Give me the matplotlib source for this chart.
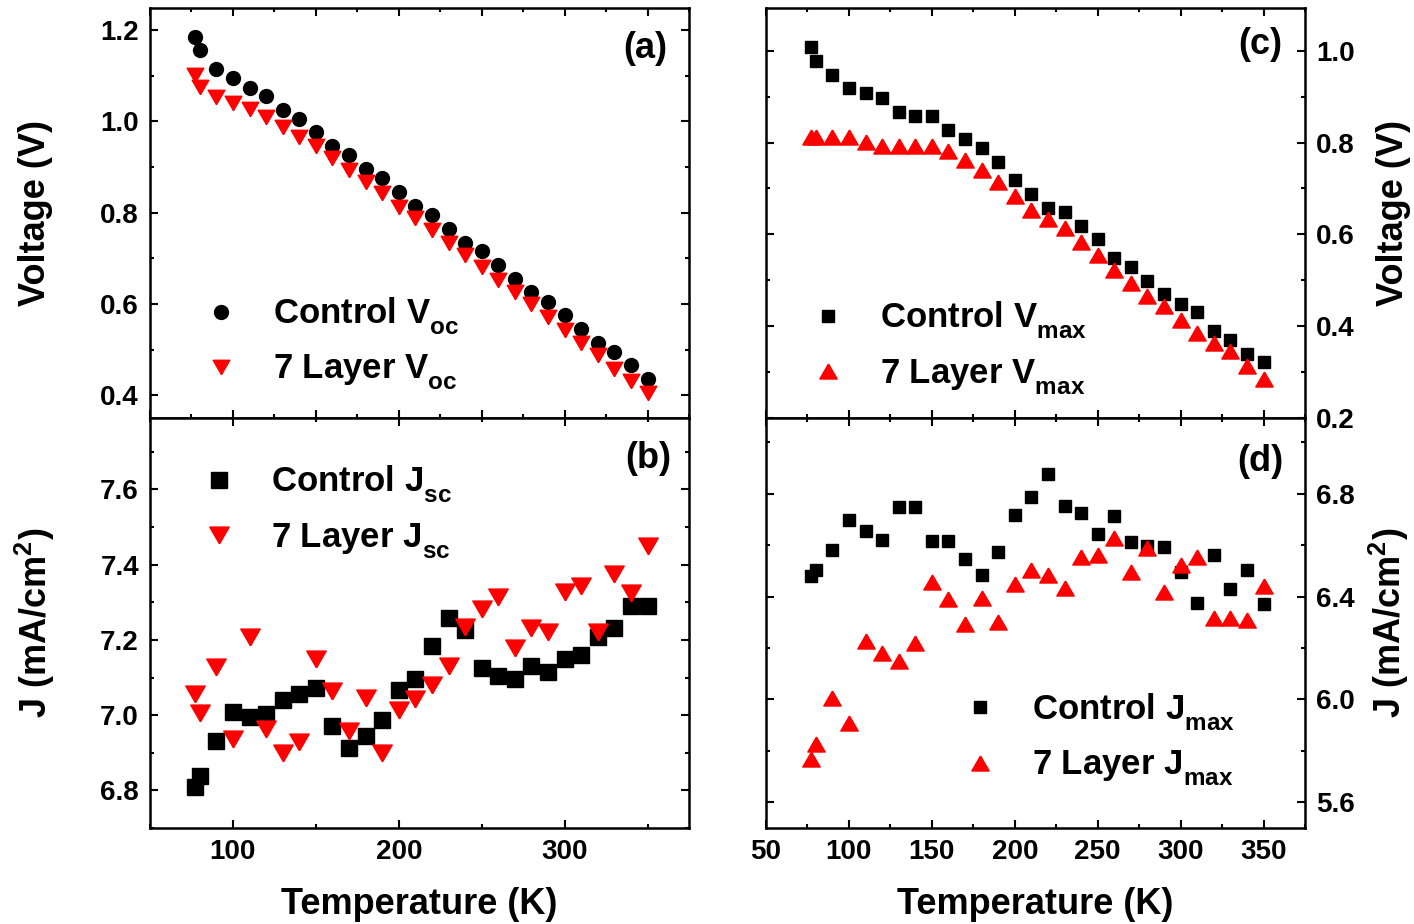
import matplotlib
matplotlib.use("Agg")
import matplotlib.pyplot as plt
from matplotlib.ticker import MultipleLocator, FormatStrFormatter

try:
    # drop subscripts a little lower than the default
    import matplotlib._mathtext as _mt
    _mt.FontConstantsBase.sub1 = 0.6
    _mt.FontConstantsBase.subdrop = 0.6
except Exception:
    pass

plt.rcParams['font.family'] = ['Liberation Sans', 'DejaVu Sans']
plt.rcParams['font.weight'] = 'bold'
plt.rcParams['mathtext.fontset'] = 'custom'
plt.rcParams['mathtext.rm'] = 'Liberation Sans:bold'
plt.rcParams['mathtext.bf'] = 'Liberation Sans:bold'
plt.rcParams['mathtext.it'] = 'Liberation Sans:bold'

# Temperature (K)
temperature = [77, 80, 90, 100, 110, 120, 130, 140, 150, 160, 170, 180, 190, 200,
               210, 220, 230, 240, 250, 260, 270, 280, 290, 300, 310, 320, 330, 340, 350]

# Open-circuit voltage (V)
voc_control = [1.185, 1.155, 1.114, 1.094, 1.073, 1.055, 1.025, 1.005, 0.976, 0.946,
               0.925, 0.895, 0.875, 0.844, 0.815, 0.794, 0.765, 0.734, 0.715, 0.685,
               0.655, 0.625, 0.604, 0.575, 0.544, 0.514, 0.495, 0.465, 0.435]
voc_7layer = [1.101, 1.076, 1.054, 1.041, 1.026, 1.010, 0.988, 0.966, 0.946, 0.919,
              0.893, 0.867, 0.842, 0.813, 0.787, 0.761, 0.734, 0.707, 0.681, 0.652,
              0.626, 0.599, 0.571, 0.542, 0.514, 0.487, 0.458, 0.432, 0.405]

# Short-circuit current density (mA/cm^2)
jsc_control = [6.808, 6.837, 6.931, 7.008, 6.996, 7.002, 7.039, 7.057, 7.073, 6.971,
               6.914, 6.944, 6.986, 7.068, 7.096, 7.183, 7.258, 7.227, 7.125, 7.103,
               7.096, 7.130, 7.114, 7.148, 7.159, 7.208, 7.231, 7.291, 7.291]
jsc_7layer = [7.057, 7.005, 7.127, 6.937, 7.207, 6.962, 6.900, 6.929, 7.149, 7.065,
              6.959, 7.046, 6.900, 7.015, 7.042, 7.081, 7.130, 7.234, 7.282, 7.315,
              7.178, 7.232, 7.220, 7.328, 7.344, 7.220, 7.375, 7.326, 7.450]

# Voltage at maximum power point (V)
vmax_control = [1.009, 0.978, 0.947, 0.918, 0.907, 0.897, 0.867, 0.858, 0.858, 0.828,
                0.807, 0.787, 0.758, 0.718, 0.688, 0.658, 0.648, 0.618, 0.589, 0.549,
                0.529, 0.499, 0.469, 0.449, 0.430, 0.390, 0.370, 0.339, 0.321]
vmax_7layer = [0.812, 0.812, 0.812, 0.812, 0.801, 0.793, 0.793, 0.793, 0.793, 0.782,
               0.762, 0.740, 0.714, 0.683, 0.653, 0.633, 0.614, 0.583, 0.554, 0.523,
               0.494, 0.465, 0.443, 0.413, 0.385, 0.363, 0.345, 0.314, 0.285]

# Current density at maximum power point (mA/cm^2)
jmax_control = [6.481, 6.504, 6.582, 6.699, 6.656, 6.621, 6.748, 6.748, 6.615, 6.616,
                6.547, 6.485, 6.575, 6.717, 6.786, 6.876, 6.752, 6.725, 6.644, 6.714,
                6.611, 6.598, 6.595, 6.495, 6.374, 6.562, 6.429, 6.504, 6.372]
jmax_7layer = [5.770, 5.825, 6.006, 5.910, 6.229, 6.182, 6.148, 6.219, 6.456, 6.391,
               6.294, 6.395, 6.301, 6.449, 6.505, 6.484, 6.433, 6.553, 6.562, 6.627,
               6.495, 6.588, 6.419, 6.523, 6.553, 6.316, 6.316, 6.311, 6.440]

# equilateral triangle markers
TRI_UP = [(0, 0.866), (-1, -0.866), (1, -0.866), (0, 0.866)]
TRI_DOWN = [(0, -0.866), (-1, 0.866), (1, 0.866), (0, -0.866)]

RED = '#ff0000'
TICK_FS = 20
LABEL_FS = 26
LEG_FS = 25

fig = plt.figure(figsize=(14.14, 9.24), dpi=100)
W, H = 1414, 924


def add_axes(x0, y0, x1, y1):
    return fig.add_axes([x0 / W, 1 - y1 / H, (x1 - x0) / W, (y1 - y0) / H])


ax_a = add_axes(150, 8, 689, 418)
ax_b = add_axes(150, 418, 689, 828)
ax_c = add_axes(766, 8, 1305, 418)
ax_d = add_axes(766, 418, 1305, 828)


def style(ax, right=False):
    for sp in ax.spines.values():
        sp.set_linewidth(1.8)
    ax.tick_params(which='both', direction='in', top=True, bottom=True,
                   left=True, right=True, width=1.5, labelsize=TICK_FS, pad=8)
    ax.tick_params(which='major', length=6)
    ax.tick_params(which='minor', length=3)
    ax.set_xlim(50, 375)
    if right:
        ax.tick_params(axis='y', labelleft=False, labelright=True)
    for lab in ax.get_xticklabels() + ax.get_yticklabels():
        lab.set_fontweight('bold')


def legend(ax, x, y):
    lg = ax.legend(loc='center left', bbox_to_anchor=(x, y), frameon=False,
                   fontsize=LEG_FS, handlelength=1.0, handletextpad=1.0,
                   labelspacing=0.45, borderpad=0, borderaxespad=0)
    for t in lg.get_texts():
        t.set_fontweight('bold')


def panel_tag(ax, s, x, y):
    ax.text(x, y, s, transform=ax.transAxes, ha='center', va='center',
            fontsize=LABEL_FS, fontweight='bold')


# (a) Voc
ax = ax_a
ax.plot(temperature, voc_control, 'o', color='black', ms=10, ls='none',
        label=r'Control V$_{\mathregular{oc}}$')
ax.plot(temperature, voc_7layer, marker=TRI_DOWN, color=RED, ms=12, ls='none',
        label=r'7 Layer V$_{\mathregular{oc}}$')
ax.set_ylim(0.35, 1.248)
ax.yaxis.set_major_locator(MultipleLocator(0.2))
ax.yaxis.set_minor_locator(MultipleLocator(0.1))
ax.yaxis.set_major_formatter(FormatStrFormatter('%.1f'))
ax.xaxis.set_major_locator(MultipleLocator(50))
ax.xaxis.set_minor_locator(MultipleLocator(25))
style(ax)
ax.tick_params(axis='x', labelbottom=False)
ax.set_ylabel('Voltage (V)', fontsize=LABEL_FS, fontweight='bold')
ax.yaxis.set_label_coords(-0.213, 0.5)
ax.yaxis.label.set_va('center')
legend(ax, 0.1, 0.18)
panel_tag(ax, '(a)', 0.918, 0.902)

# (b) Jsc
ax = ax_b
ax.plot(temperature, jsc_control, 's', color='black', ms=11, ls='none',
        label=r'Control J$_{\mathregular{sc}}$')
ax.plot(temperature, jsc_7layer, marker=TRI_DOWN, color=RED, ms=14, ls='none',
        label=r'7 Layer J$_{\mathregular{sc}}$')
ax.set_ylim(6.70, 7.79)
ax.yaxis.set_major_locator(MultipleLocator(0.2))
ax.yaxis.set_minor_locator(MultipleLocator(0.1))
ax.yaxis.set_major_formatter(FormatStrFormatter('%.1f'))
ax.xaxis.set_major_locator(MultipleLocator(100))
ax.xaxis.set_minor_locator(MultipleLocator(50))
style(ax)
ax.set_ylabel(r'J (mA/cm$^{\mathregular{2}}$)', fontsize=LABEL_FS, fontweight='bold')
ax.yaxis.set_label_coords(-0.213, 0.5)
ax.yaxis.label.set_va('center')
ax.set_xlabel('Temperature (K)', fontsize=LABEL_FS, fontweight='bold')
ax.xaxis.set_label_coords(0.5, -0.186)
ax.xaxis.label.set_va('center')
legend(ax, 0.095, 0.77)
panel_tag(ax, '(b)', 0.924, 0.902)

# (c) Vmax
ax = ax_c
ax.plot(temperature, vmax_control, 's', color='black', ms=8.5, ls='none',
        label=r'Control V$_{\mathregular{max}}$')
ax.plot(temperature, vmax_7layer, marker=TRI_UP, color=RED, ms=12.5, ls='none',
        label=r'7 Layer V$_{\mathregular{max}}$')
ax.set_ylim(0.2, 1.093)
ax.yaxis.set_major_locator(MultipleLocator(0.2))
ax.yaxis.set_minor_locator(MultipleLocator(0.1))
ax.yaxis.set_major_formatter(FormatStrFormatter('%.1f'))
ax.xaxis.set_major_locator(MultipleLocator(50))
ax.xaxis.set_minor_locator(MultipleLocator(25))
style(ax, right=True)
ax.tick_params(axis='x', labelbottom=False)
ax.yaxis.set_label_position('right')
ax.set_ylabel('Voltage (V)', fontsize=LABEL_FS, fontweight='bold', rotation=90)
ax.yaxis.set_label_coords(1.165, 0.5)
ax.yaxis.label.set_va('center')
legend(ax, 0.083, 0.17)
panel_tag(ax, '(c)', 0.917, 0.91)

# (d) Jmax
ax = ax_d
ax.plot(temperature, jmax_control, 's', color='black', ms=8.5, ls='none',
        label=r'Control J$_{\mathregular{max}}$')
ax.plot(temperature, jmax_7layer, marker=TRI_UP, color=RED, ms=12.5, ls='none',
        label=r'7 Layer J$_{\mathregular{max}}$')
ax.set_ylim(5.5, 7.095)
ax.yaxis.set_major_locator(MultipleLocator(0.4))
ax.yaxis.set_minor_locator(MultipleLocator(0.2))
ax.yaxis.set_major_formatter(FormatStrFormatter('%.1f'))
ax.xaxis.set_major_locator(MultipleLocator(50))
ax.xaxis.set_minor_locator(MultipleLocator(25))
style(ax, right=True)
ax.yaxis.set_label_position('right')
ax.set_ylabel(r'J (mA/cm$^{\mathregular{2}}$)', fontsize=LABEL_FS, fontweight='bold',
              rotation=90)
ax.yaxis.set_label_coords(1.155, 0.5)
ax.yaxis.label.set_va('center')
ax.set_xlabel('Temperature (K)', fontsize=LABEL_FS, fontweight='bold')
ax.xaxis.set_label_coords(0.5, -0.186)
ax.xaxis.label.set_va('center')
legend(ax, 0.365, 0.215)
panel_tag(ax, '(d)', 0.917, 0.893)

fig.savefig('out.png', dpi=100)
